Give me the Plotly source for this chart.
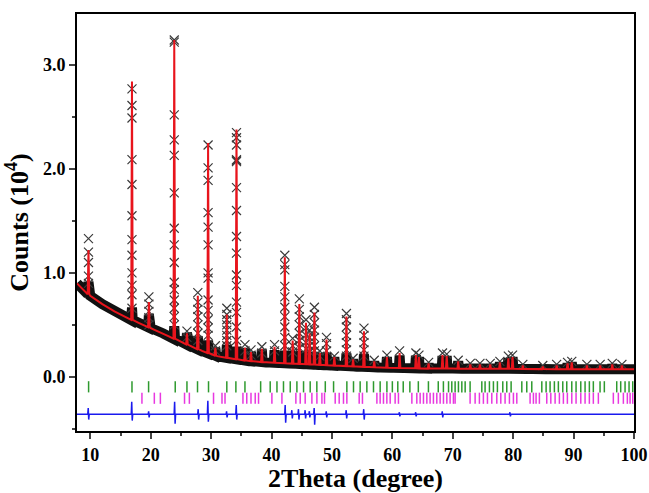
import numpy as np
import plotly.graph_objects as go

# ---------------- data ----------------
# background anchors (2theta, counts/1e4)
bg_x = [7.8, 9, 10, 12, 14, 16, 18, 20, 22, 23, 25, 26.5, 28.5, 31, 33, 36, 39, 42.8, 46.8, 50, 54, 58, 62, 66, 70, 75, 80, 85, 90, 95, 100]
bg_y = [0.90, 0.83, 0.78, 0.70, 0.63, 0.57, 0.52, 0.47, 0.42, 0.39, 0.34, 0.30, 0.25, 0.20, 0.18, 0.155, 0.14, 0.13, 0.12, 0.11, 0.10, 0.09, 0.085, 0.08, 0.08, 0.078, 0.078, 0.075, 0.075, 0.075, 0.075]

# reflections: position, calculated top, observed points along the peak
peak_pos = [9.7, 16.9, 19.7, 23.9, 26.0, 27.8, 29.5, 30.7, 32.6, 34.2, 35.6, 36.6, 38.4, 40.5,
            42.2, 43.5, 44.6, 45.7, 46.3, 47.1, 48.0, 49.1, 50.4, 52.4, 53.5, 55.3, 57.0, 59.1,
            61.2, 63.9, 64.4, 66.0, 68.3, 69.0, 70.9, 72.9, 74.5, 76.2, 77.8, 79.2, 79.9, 81.6,
            84.9, 87.2, 89.0, 89.7, 92.2, 94.4, 96.4, 98.0]
calc_top = [1.22, 2.84, 0.72, 3.24, 0.42, 0.78, 2.25, 0.28, 0.60, 2.38, 0.28, 0.24, 0.27, 0.29,
            1.15, 0.35, 0.70, 0.52, 0.42, 0.62, 0.23, 0.36, 0.19, 0.58, 0.17, 0.44, 0.15, 0.19,
            0.23, 0.21, 0.19, 0.13, 0.21, 0.20, 0.15, 0.12, 0.12, 0.12, 0.14, 0.18, 0.19, 0.11,
            0.10, 0.11, 0.13, 0.14, 0.11, 0.11, 0.12, 0.11]
obs_points = [
    [1.33, 1.20, 1.10, 0.97, 0.90],
    [2.77, 2.61, 2.49, 2.09, 1.85, 1.55, 1.32, 1.17, 1.00, 0.88, 0.79, 0.66],
    [0.77, 0.70, 0.63, 0.57, 0.50],
    [3.24, 3.22, 2.52, 2.28, 2.13, 1.77, 1.43, 1.27, 1.10, 0.91, 0.84, 0.74, 0.66, 0.58, 0.50],
    [0.44, 0.38],
    [0.81, 0.72, 0.65, 0.58, 0.50, 0.42, 0.35],
    [2.23, 2.01, 1.89, 1.58, 1.44, 1.27, 1.00, 0.95, 0.74, 0.64, 0.55, 0.47, 0.40],
    [0.30, 0.25],
    [0.66, 0.60, 0.55, 0.50, 0.45, 0.40, 0.35, 0.30],
    [2.35, 2.30, 2.23, 2.09, 2.08, 2.07, 1.82, 1.60, 1.35, 1.19, 0.98, 0.88, 0.72, 0.62, 0.48, 0.35],
    [0.31, 0.25],
    [0.26, 0.21],
    [0.29, 0.23],
    [0.31, 0.25],
    [1.17, 1.08, 1.03, 0.87, 0.77, 0.67, 0.58, 0.48, 0.38, 0.30],
    [0.37, 0.30, 0.24],
    [0.75, 0.65, 0.58, 0.50, 0.42, 0.35, 0.28],
    [0.55, 0.47, 0.40, 0.33, 0.27],
    [0.45, 0.38, 0.30, 0.24],
    [0.67, 0.60, 0.52, 0.45, 0.38, 0.30, 0.25],
    [0.25, 0.20],
    [0.38, 0.32, 0.25],
    [0.20],
    [0.61, 0.55, 0.48, 0.40, 0.33, 0.26, 0.20],
    [0.18],
    [0.47, 0.40, 0.33, 0.26, 0.20],
    [0.16], [0.21], [0.25], [0.23], [0.21], [0.14], [0.23], [0.22], [0.16], [0.13],
    [0.13], [0.13], [0.15], [0.20], [0.21], [0.12], [0.11], [0.12], [0.14], [0.15],
    [0.12], [0.12], [0.13], [0.12],
]

# Bragg reflection markers of the two phases
green_ticks = [9.72, 16.9, 19.65, 24.06, 26.0, 27.75, 29.57, 32.6, 34.1, 35.6, 38.2, 39.78, 40.9, 41.98,
               43.1, 44.2, 45.3, 46.4, 47.5, 48.9, 50.27, 52.47, 53.57, 54.67, 55.78, 56.88, 57.98,
               59.1, 60.0, 60.9, 61.8, 62.9, 64.3, 65.97, 67.6, 68.45, 69.3, 69.84, 70.39, 70.94,
               71.5, 72.05, 72.87, 74.81, 75.35, 76.07, 76.73, 77.39, 78.28, 78.94, 79.66, 81.43,
               82.25, 83.08, 84.74, 85.45, 86.11, 86.82, 87.48, 88.21, 88.87, 89.7, 90.41, 91.19,
               91.9, 92.61, 93.27, 94.38, 95.09, 97.14, 97.8, 98.52, 99.18, 99.79]
magenta_ticks = [18.55, 20.6, 21.6, 25.6, 26.4, 30.4, 31.8, 32.3, 35.27, 35.9, 36.6, 37.3, 37.85,
                 40.06, 41.72, 44.03, 44.75, 45.57, 46.68, 47.51, 48.34, 48.77, 50.54, 51.2, 51.91,
                 52.47, 54.51, 55.05, 57.44, 57.98, 58.53, 59.09, 59.64, 60.46, 61.01, 63.23, 64.05,
                 64.6, 65.15, 65.71, 66.25, 66.8, 67.36, 67.91, 68.46, 69.02, 69.56, 70.11, 70.39,
                 72.87, 73.7, 74.41, 75.07, 75.74, 76.46, 77.29, 77.95, 78.66, 79.38, 80.04, 80.6,
                 82.8, 83.35, 83.79, 84.34, 85.56, 86.23, 86.94, 87.65, 88.31, 88.97, 89.7, 90.41,
                 91.19, 91.9, 92.61, 93.27, 94.1, 96.58, 97.41, 98.24, 98.9, 99.35, 99.79]
green_row = -0.095
magenta_row = -0.205

# difference curve (Yobs - Ycalc, offset)
diff_base = -0.36
diff_pos = [9.7, 16.9, 19.7, 24.0, 27.9, 29.5, 32.6, 34.2, 42.3, 43.4, 44.5, 45.6, 46.3, 47.1, 49.1, 52.4, 55.3, 61.2, 63.9, 68.3, 79.5]
diff_hi = [-0.30, -0.24, -0.33, -0.24, -0.31, -0.23, -0.33, -0.27, -0.27, -0.32, -0.31, -0.32, -0.33, -0.30, -0.33, -0.32, -0.31, -0.34, -0.34, -0.33, -0.34]
diff_lo = [-0.41, -0.42, -0.39, -0.45, -0.41, -0.43, -0.39, -0.41, -0.44, -0.40, -0.41, -0.40, -0.39, -0.46, -0.39, -0.40, -0.41, -0.38, -0.38, -0.39, -0.38]

# ---------------- build traces ----------------
HW = 0.13


def polyline(tops):
    pts = [(x, y) for x, y in zip(bg_x, bg_y)
           if all(abs(x - p) > HW for p in peak_pos)]
    for p, t in zip(peak_pos, tops):
        b = float(np.interp(p, bg_x, bg_y))
        pts += [(p - HW, b), (p, t), (p + HW, b)]
    pts.sort()
    return [a for a, _ in pts], [b for _, b in pts]


calc_x, calc_y = polyline(calc_top)
band_tops = [min(t, float(np.interp(p, bg_x, bg_y)) + 0.12) for p, t in zip(peak_pos, calc_top)]
band_x, band_y = polyline(band_tops)

ox, oy = [], []
for p, vals in zip(peak_pos, obs_points):
    for v in vals:
        ox.append(p)
        oy.append(v)

dx = [7.8]
dy = [diff_base]
for p, h, l in zip(diff_pos, diff_hi, diff_lo):
    dx += [p - 0.12, p - 0.04, p + 0.04, p + 0.12]
    dy += [diff_base, h, l, diff_base]
dx.append(100)
dy.append(diff_base)

fig = go.Figure()
fig.add_trace(go.Scatter(x=band_x, y=band_y, mode="lines",
                         line=dict(color="#111111", width=10), hoverinfo="skip"))
fig.add_trace(go.Scatter(x=ox, y=oy, mode="markers",
                         marker=dict(symbol="x-thin", size=9, line=dict(color="#3a3a3a", width=1.2)),
                         name="Yobs"))
fig.add_trace(go.Scatter(x=calc_x, y=calc_y, mode="lines",
                         line=dict(color="#e8141c", width=2), name="Ycalc"))
fig.add_trace(go.Scatter(x=green_ticks, y=[green_row] * len(green_ticks), mode="markers",
                         marker=dict(symbol="line-ns", size=8, line=dict(color="#2e9a2e", width=1.5)),
                         name="phase 1"))
fig.add_trace(go.Scatter(x=magenta_ticks, y=[magenta_row] * len(magenta_ticks), mode="markers",
                         marker=dict(symbol="line-ns", size=8, line=dict(color="#e838e0", width=1.5)),
                         name="phase 2"))
fig.add_trace(go.Scatter(x=dx, y=dy, mode="lines",
                         line=dict(color="#1a1aee", width=1.5), name="Yobs-Ycalc"))

font_family = "Liberation Serif, Times New Roman, serif"
fig.update_layout(
    width=649, height=493,
    margin=dict(l=77, r=15, t=14, b=62),
    paper_bgcolor="white", plot_bgcolor="white",
    showlegend=False,
    font=dict(family=font_family, color="black"),
)
fig.update_xaxes(
    range=[7.8, 100], tick0=0, dtick=10, ticks="outside", ticklen=6, tickwidth=2,
    minor=dict(dtick=5, ticks="outside", ticklen=3, tickwidth=2),
    showline=True, linecolor="black", linewidth=2, mirror=True, showgrid=False, zeroline=False,
    automargin=False,
    tickfont=dict(family=font_family, size=18, weight="bold"),
    title=dict(text="2Theta (degree)", font=dict(family=font_family, size=26, weight="bold"), standoff=10),
)
fig.update_yaxes(
    range=[-0.52, 3.49], tick0=0, dtick=1, tickformat=".1f", ticks="outside", ticklen=6, tickwidth=2,
    minor=dict(dtick=0.5, ticks="outside", ticklen=3, tickwidth=2),
    showline=True, linecolor="black", linewidth=2, mirror=True, showgrid=False, zeroline=False,
    automargin=False,
    tickfont=dict(family=font_family, size=18, weight="bold"),
    title=dict(text="Counts (10<sup>4</sup>)", font=dict(family=font_family, size=26, weight="bold"), standoff=7),
)

fig.write_html("out.html", config={"displayModeBar": False},
               post_script="document.body.style.margin='0';document.body.style.overflow='hidden';")
